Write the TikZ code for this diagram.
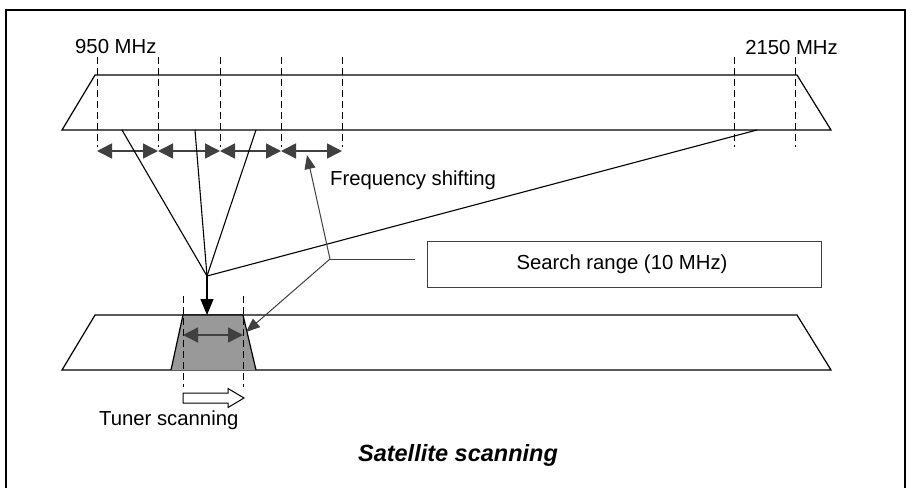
\documentclass[tikz,border=0pt]{standalone}
\usepackage{fontspec}
\setmainfont{Liberation Sans}
\usetikzlibrary{arrows.meta,calc}
\definecolor{dgray}{HTML}{404040}
\definecolor{fillgray}{HTML}{999999}
\begin{document}
\begin{tikzpicture}[x=1pt,y=-1pt,
  frame/.style={draw=black,line width=2pt},
  band/.style={draw=black,line width=1.2pt,line join=miter},
  guide/.style={draw=black,line width=0.9pt,dash pattern=on 7pt off 4pt},
  shiftarr/.style={draw=dgray,line width=1.5pt,{Triangle[length=15pt,width=15pt]}-{Triangle[length=15pt,width=15pt]}},
  ray/.style={draw=black,line width=1.1pt},
  pointer/.style={draw=dgray,line width=1pt,-{Triangle[length=14pt,width=11pt]}},
  lbl/.style={font=\fontsize{20.3}{22}\selectfont,inner sep=0pt},
  title/.style={font=\fontsize{23.5}{26}\selectfont\bfseries\itshape,inner sep=0pt},
  ]
\useasboundingbox (0,0) rectangle (906,488);
% frame
\draw[frame] (6,488) -- (6,10) -- (905,10) -- (905,488);

% top band
\coordinate (tTL) at (95,75);  \coordinate (tTR) at (797,75);
\coordinate (tBL) at (62,130); \coordinate (tBR) at (831,130);
\draw[band] (tBL) -- (tTL) -- (tTR) -- (tBR) -- cycle;

% bottom band
\coordinate (bTL) at (95,315);  \coordinate (bTR) at (797,315);
\coordinate (bBL) at (62,370);  \coordinate (bBR) at (831,370);
\draw[band] (bBL) -- (bTL) -- (bTR) -- (bBR) -- cycle;

% dashed guides top
\foreach \n/\x in {g1/97,g2/158,g3/220,g4/281,g5/342,g6/734,g7/795}{
  \coordinate (\n a) at (\x,57);
  \coordinate (\n b) at (\x,147);
  \draw[guide] (\n a) -- (\n b);
}

% frequency shifting arrows
\foreach \a/\b in {g1/g2,g2/g3,g3/g4,g4/g5}{
  \draw[shiftarr] ($(\a b)+(0,4)$) -- ($(\b b)+(0,4)$);
}

% gray window
\coordinate (wTL) at (183,315); \coordinate (wTR) at (243,315);
\coordinate (wBL) at (171,370); \coordinate (wBR) at (256,370);
\draw[band,fill=fillgray] (wBL) -- (wTL) -- (wTR) -- (wBR);
\coordinate (d1a) at (183,296); \coordinate (d1b) at (183,387);
\coordinate (d2a) at (243,296); \coordinate (d2b) at (243,387);
\draw[guide] (d1a) -- (d1b);
\draw[guide] (d2a) -- (d2b);
\coordinate (wl) at (183,335); \coordinate (wr) at (243,335);
\draw[shiftarr] (wl) -- (wr);

% rays to focal point
\coordinate (F) at (207,276);
\coordinate (r1) at (122,130);
\coordinate (r2) at (195,130);
\coordinate (r3) at (256,130);
\coordinate (r4) at (757,130);
\draw[ray] (r1) -- (F);
\draw[ray] (r2) -- (F);
\draw[ray] (r3) -- (F);
\draw[ray] (r4) -- (F);
\coordinate (Fd) at (207,315);
\draw[ray,-{Triangle[length=16pt,width=13pt]}] (F) -- (Fd);

% search range box and pointers
\node[draw=dgray,line width=1pt,minimum width=394pt,minimum height=46pt,inner sep=0pt] (sr) at (624,264) {};
\node[lbl,anchor=base] (srt) at (622,269.3) {Search range (10 MHz)};
\coordinate (J) at (330,259);
\coordinate (Jb) at (415,259);
\coordinate (fsTip) at (307,155);
\coordinate (wTip) at (246,332);
\draw[draw=dgray,line width=1pt] (Jb) -- (J);
\draw[pointer] (J) -- (fsTip);
\draw[pointer] (J) -- (wTip);

% hollow arrow (tuner scanning)
\draw[draw=black,line width=1pt,fill=white] (183,393) -- (228,393) -- (228,388.5) -- (244,398) -- (228,407.5) -- (228,403) -- (183,403) -- cycle;

% labels
\node[lbl,anchor=base west] (f950) at (75,53.5) {950 MHz};
\node[lbl,anchor=base east] (f2150) at (838,54.5) {2150 MHz};
\node[lbl,anchor=base west] (fshift) at (330,185) {Frequency shifting};
\node[lbl,anchor=base west] (tuner) at (99,425.5) {Tuner scanning};
\node[title,anchor=base] (ttl) at (458,461) {Satellite scanning};
\end{tikzpicture}
\end{document}
